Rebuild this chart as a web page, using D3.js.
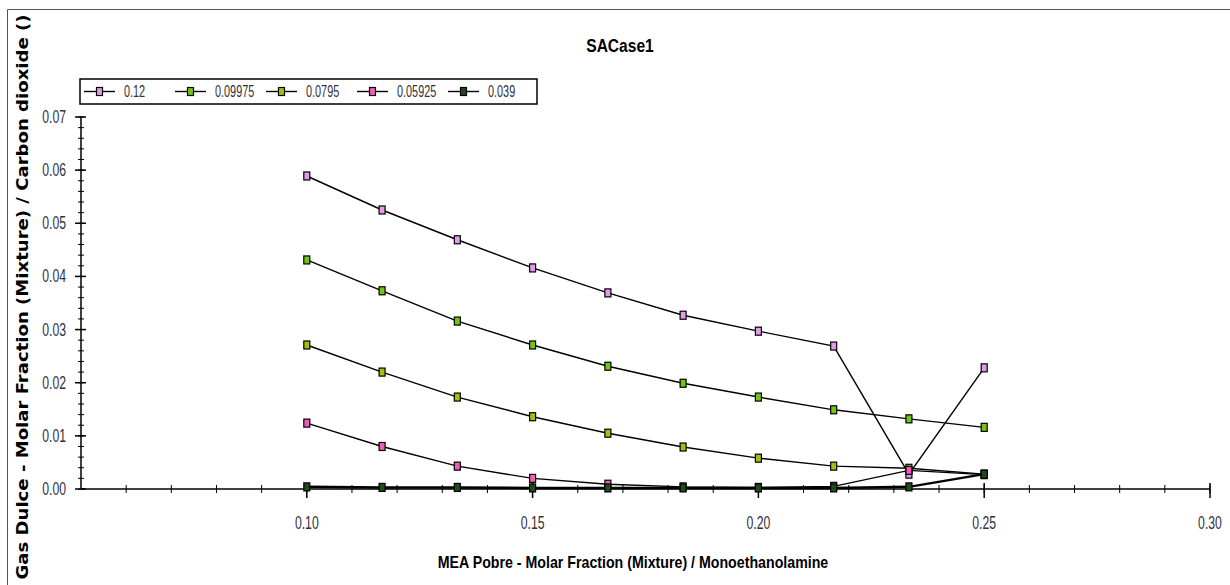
<!DOCTYPE html>
<html>
<head>
<meta charset="utf-8">
<script src="https://cdn.jsdelivr.net/npm/d3@7"></script>
<style>
  body { margin: 0; background: #fff; }
  svg { display: block; }
  .cond { font-family: "Liberation Sans", Arial, sans-serif; }
</style>
</head>
<body>
<script>
// x values (MEA Pobre molar fraction)
var xValues = [0.10, 0.11667, 0.13333, 0.15, 0.16667, 0.18333, 0.20, 0.21667, 0.23333, 0.25];
var seriesNames = ["0.12", "0.09975", "0.0795", "0.05925", "0.039"];
var seriesColors = ["#e29be8", "#74c414", "#a6bf0a", "#f45cbc", "#1f4a1c"];
var s012 = [0.0589, 0.0525, 0.0469, 0.0416, 0.0369, 0.0327, 0.0297, 0.0269, 0.0028, 0.0228];
var s09975 = [0.0431, 0.0373, 0.0316, 0.0271, 0.0231, 0.0199, 0.0173, 0.0149, 0.0132, 0.0116];
var s0795 = [0.0271, 0.0220, 0.0173, 0.0136, 0.0105, 0.0079, 0.0058, 0.0043, 0.0039, 0.0028];
var s05925 = [0.0124, 0.0080, 0.0043, 0.0020, 0.0009, 0.0004, 0.0003, 0.0005, 0.0035, 0.0027];
var s039 = [0.0004, 0.0003, 0.0003, 0.0002, 0.0002, 0.0002, 0.0002, 0.0002, 0.0004, 0.0028];
var seriesValues = [s012, s09975, s0795, s05925, s039];
var xTicks = [0.10, 0.15, 0.20, 0.25, 0.30];
var yTicks = [0.00, 0.01, 0.02, 0.03, 0.04, 0.05, 0.06, 0.07];

var W = 1230, H = 585;
var svg = d3.select("body").append("svg")
    .attr("width", W)
    .attr("height", H);

// narrow text: placed with a transform and squeezed horizontally
function narrowText(parent, px, py, f) {
    return parent.append("text")
        .attr("class", "cond")
        .attr("transform", "translate(" + px + "," + py + ") scale(" + f + ",1)");
}

// outer frame (only left and top edges fall inside the window)
svg.append("path")
    .attr("d", "M7.5," + H + "V9.5H" + W)
    .attr("fill", "none").attr("stroke", "#555").attr("stroke-width", 1);

var x = d3.scaleLinear().domain([0.05, 0.30]).range([81, 1210]);
var y = d3.scaleLinear().domain([0, 0.07]).range([489, 117]);

// title
narrowText(svg, 620, 52, 0.82)
    .attr("text-anchor", "middle")
    .attr("font-size", "19px").attr("font-weight", "bold")
    .text("SACase1");

// y axis
var yAxis = svg.append("g");
yAxis.append("line")
    .attr("x1", 81).attr("x2", 81)
    .attr("y1", y(0.07)).attr("y2", y(0))
    .attr("stroke", "#000").attr("stroke-width", 1.5);
yAxis.selectAll(".ymin").data(d3.range(0, 36).map(function (i) { return i * 0.002; }))
    .enter().append("line")
    .attr("x1", 78).attr("x2", 84)
    .attr("y1", function (d) { return y(d); })
    .attr("y2", function (d) { return y(d); })
    .attr("stroke", "#000").attr("stroke-width", 1);
yAxis.selectAll(".ymaj").data(yTicks)
    .enter().append("line")
    .attr("x1", 75).attr("x2", 86)
    .attr("y1", function (d) { return y(d); })
    .attr("y2", function (d) { return y(d); })
    .attr("stroke", "#000").attr("stroke-width", 1.5);
yTicks.forEach(function (d) {
    narrowText(yAxis, 66, y(d) + 6, 0.68)
        .attr("text-anchor", "end")
        .attr("font-size", "18px").attr("fill", "#303040")
        .text(d.toFixed(2));
});

// x axis
var xAxis = svg.append("g");
xAxis.append("line")
    .attr("x1", x(0.05)).attr("x2", x(0.30))
    .attr("y1", y(0)).attr("y2", y(0))
    .attr("stroke", "#000").attr("stroke-width", 1.5);
xAxis.selectAll(".xmin").data(d3.range(6, 31).map(function (i) { return i * 0.01; }))
    .enter().append("line")
    .attr("x1", function (d) { return x(d); })
    .attr("x2", function (d) { return x(d); })
    .attr("y1", y(0) - 4).attr("y2", y(0) + 4)
    .attr("stroke", "#000").attr("stroke-width", 1);
xAxis.selectAll(".xmaj").data(xTicks)
    .enter().append("line")
    .attr("x1", function (d) { return x(d); })
    .attr("x2", function (d) { return x(d); })
    .attr("y1", y(0) - 6).attr("y2", y(0) + 9)
    .attr("stroke", "#000").attr("stroke-width", 1.5);
xTicks.forEach(function (d) {
    narrowText(xAxis, x(d), 529, 0.68)
        .attr("text-anchor", "middle")
        .attr("font-size", "18px").attr("fill", "#303040")
        .text(d.toFixed(2));
});

// axis titles
narrowText(svg, 633, 568, 0.835)
    .attr("text-anchor", "middle")
    .attr("font-size", "17px").attr("font-weight", "bold")
    .text("MEA Pobre - Molar Fraction (Mixture) / Monoethanolamine");
svg.append("text")
    .attr("transform", "translate(28,297) rotate(-90)")
    .attr("text-anchor", "middle")
    .attr("font-family", "'DejaVu Sans', Verdana, sans-serif")
    .attr("font-size", "15px").attr("font-weight", "bold")
    .attr("textLength", 565).attr("lengthAdjust", "spacingAndGlyphs")
    .text("Gas Dulce - Molar Fraction (Mixture) / Carbon dioxide ()");

// series
var line = d3.line()
    .x(function (d) { return x(d[0]); })
    .y(function (d) { return y(d[1]); });

var plot = svg.append("g");
seriesValues.forEach(function (vals, si) {
    var pts = xValues.map(function (xv, i) { return [xv, vals[i]]; });
    plot.append("path")
        .datum(pts)
        .attr("d", line)
        .attr("fill", "none")
        .attr("stroke", "#000")
        .attr("stroke-width", si === 4 ? 2.5 : 1.4);
});
seriesValues.forEach(function (vals, si) {
    var pts = xValues.map(function (xv, i) { return [xv, vals[i]]; });
    plot.selectAll(".m" + si).data(pts)
        .enter().append("rect")
        .attr("x", function (d) { return x(d[0]) - 3; })
        .attr("y", function (d) { return y(d[1]) - 4; })
        .attr("width", 6).attr("height", 8)
        .attr("fill", seriesColors[si])
        .attr("stroke", "#000").attr("stroke-width", 1.2);
});

// legend
var legend = svg.append("g");
legend.append("rect")
    .attr("x", 80).attr("y", 79)
    .attr("width", 457).attr("height", 25)
    .attr("fill", "#fff").attr("stroke", "#000").attr("stroke-width", 1.5);
seriesNames.forEach(function (name, i) {
    var lx = 84 + i * 91;
    var g = legend.append("g");
    g.append("line")
        .attr("x1", lx).attr("x2", lx + 31)
        .attr("y1", 91.5).attr("y2", 91.5)
        .attr("stroke", "#000").attr("stroke-width", 1.4);
    g.append("rect")
        .attr("x", lx + 12.5).attr("y", 87.5)
        .attr("width", 6).attr("height", 8)
        .attr("fill", seriesColors[i])
        .attr("stroke", "#000").attr("stroke-width", 1.2);
    narrowText(g, lx + 40, 97, 0.68)
        .attr("font-size", "16px").attr("fill", "#303040")
        .text(name);
});
</script>
</body>
</html>
